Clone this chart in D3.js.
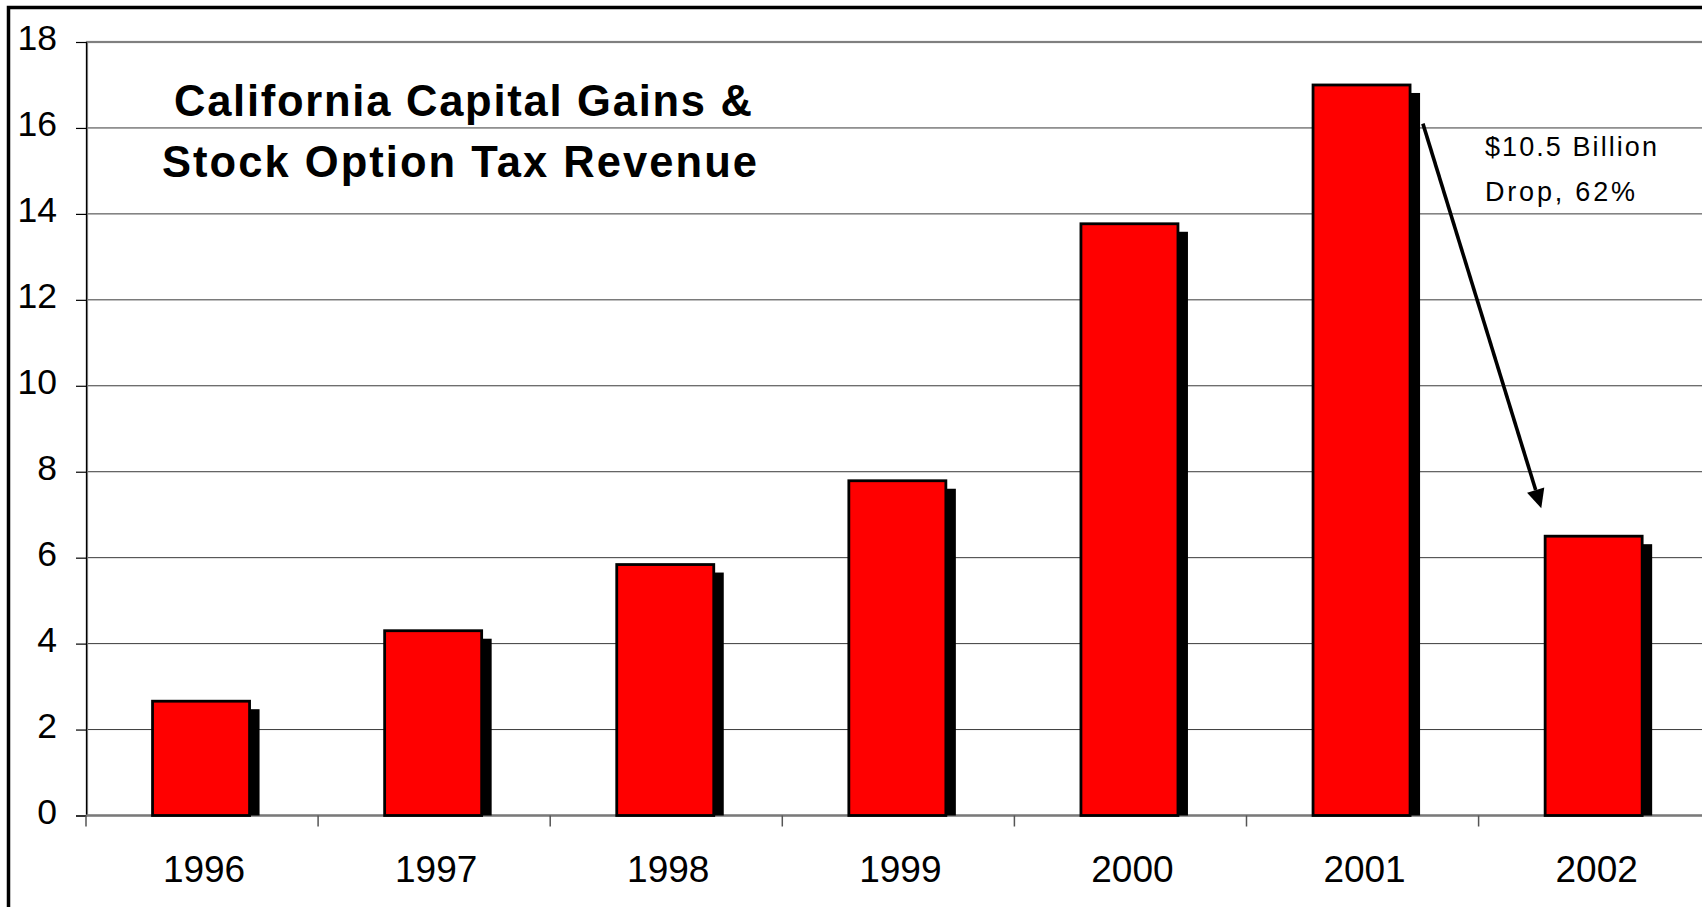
<!DOCTYPE html>
<html>
<head>
<meta charset="utf-8">
<script src="https://cdn.jsdelivr.net/npm/d3@7"></script>
<style>
  html, body { margin: 0; padding: 0; background: #fff; overflow: hidden; }
  svg { display: block; }
</style>
</head>
<body>
<svg id="chart" width="1702" height="907"></svg>
<script>
// Revenue in billions of dollars, by calendar year
const years = ["1996", "1997", "1998", "1999", "2000", "2001", "2002"];
const revenue = [2.66, 4.3, 5.84, 7.79, 13.77, 17.0, 6.5];
const yTicks = [0, 2, 4, 6, 8, 10, 12, 14, 16, 18];
const titleLines = ["California Capital Gains &", "Stock Option Tax Revenue"];
const noteLines = ["$10.5 Billion", "Drop, 62%"];
// arrow runs from the 2001 peak down toward the 2002 bar
const arrowFrom = { year: "2001", frac: 0.76, value: 16.1 };
const arrowTo = { year: "2002", frac: 0.27, value: 7.15 };

const svg = d3.select("#chart");
const W = 1702, H = 907;
const plot = { left: 86, right: 1710.7, top: 42, bottom: 815.5 };
const FONT = "'Liberation Sans', Arial, Helvetica, sans-serif";

svg.append("rect").attr("width", W).attr("height", H).attr("fill", "#fff");

const x = d3.scaleBand().domain(years).range([plot.left, plot.right]).padding(0);
const y = d3.scaleLinear().domain([0, 18]).range([plot.bottom, plot.top]);
const barW = x.bandwidth() * 0.418;

// outer frame
svg.append("rect")
  .attr("x", 8.5).attr("y", 7.5)
  .attr("width", 1730).attr("height", 950)
  .attr("fill", "none").attr("stroke", "#000").attr("stroke-width", 3.5);

// gridlines
svg.append("g")
  .selectAll("line")
  .data(yTicks.filter(t => t > 0 && t < 18))
  .join("line")
  .attr("x1", plot.left).attr("x2", plot.right)
  .attr("y1", d => y(d)).attr("y2", d => y(d))
  .attr("stroke", "#3a3a3a").attr("stroke-width", 1);

// plot area border
svg.append("rect")
  .attr("x", plot.left + 1).attr("y", y(18))
  .attr("width", plot.right - plot.left).attr("height", y(0) - y(18))
  .attr("fill", "none").attr("stroke", "#808080").attr("stroke-width", 2.2);

// y axis
const yAxis = svg.append("g")
  .attr("transform", `translate(${plot.left},0)`)
  .call(d3.axisLeft(y).tickValues(yTicks).tickSize(10).tickPadding(19).tickFormat(d3.format("d")));
yAxis.select(".domain").attr("stroke", "#000").attr("stroke-width", 1.2);
yAxis.selectAll(".tick line").attr("stroke", "#000").attr("stroke-width", 1.2);
yAxis.selectAll(".tick text")
  .attr("fill", "#000").attr("font-family", FONT).attr("font-size", 35.5)
  .attr("dy", "0.22em");

// x axis: boundary ticks between categories, labels centred in each band
const bounds = years.map(d => x(d)).concat([x(years[years.length - 1]) + x.bandwidth()]);
const xAxis = svg.append("g");
xAxis.append("line")
  .attr("x1", plot.left).attr("x2", plot.right)
  .attr("y1", y(0)).attr("y2", y(0))
  .attr("stroke", "#7a7a7a").attr("stroke-width", 2);
xAxis.selectAll("line.tk")
  .data(bounds)
  .join("line").attr("class", "tk")
  .attr("x1", d => d).attr("x2", d => d)
  .attr("y1", y(0)).attr("y2", y(0) + 11)
  .attr("stroke", "#555").attr("stroke-width", 1.5);
xAxis.selectAll("text")
  .data(years)
  .join("text")
  .attr("x", d => x(d) + x.bandwidth() / 2 + 2)
  .attr("y", y(0) + 66)
  .attr("text-anchor", "middle")
  .attr("font-family", FONT).attr("font-size", 37)
  .attr("fill", "#000")
  .text(d => d);

// bars with a black drop shadow
const data = years.map((yr, i) => ({ yr, v: revenue[i] }));
const bx = d => x(d.yr) + (x.bandwidth() - barW) / 2 - 1;
const bars = svg.append("g");
bars.selectAll("rect.shadow")
  .data(data)
  .join("rect").attr("class", "shadow")
  .attr("x", d => bx(d) + 10)
  .attr("y", d => y(d.v) + 8)
  .attr("width", barW)
  .attr("height", d => y(0) - y(d.v) - 8)
  .attr("fill", "#000");
bars.selectAll("rect.bar")
  .data(data)
  .join("rect").attr("class", "bar")
  .attr("x", bx)
  .attr("y", d => y(d.v))
  .attr("width", barW)
  .attr("height", d => y(0) - y(d.v))
  .attr("fill", "#ff0000")
  .attr("stroke", "#000").attr("stroke-width", 2.8);

// title
const titleLayout = [
  { baseline: 116, x0: 174, len: 578 },
  { baseline: 177, x0: 162, len: 595 }
];
svg.append("g").selectAll("text")
  .data(titleLines)
  .join("text")
  .attr("x", (d, i) => titleLayout[i].x0)
  .attr("y", (d, i) => titleLayout[i].baseline)
  .attr("textLength", (d, i) => titleLayout[i].len)
  .attr("lengthAdjust", "spacing")
  .attr("font-family", FONT).attr("font-weight", "bold").attr("font-size", 43.5)
  .attr("fill", "#000")
  .text(d => d);

// drop annotation
const noteLayout = [
  { baseline: 156, len: 172 },
  { baseline: 201, len: 150 }
];
svg.append("g").selectAll("text")
  .data(noteLines)
  .join("text")
  .attr("x", 1485)
  .attr("y", (d, i) => noteLayout[i].baseline)
  .attr("textLength", (d, i) => noteLayout[i].len)
  .attr("lengthAdjust", "spacing")
  .attr("font-family", FONT).attr("font-size", 27)
  .attr("fill", "#000")
  .text(d => d);

// arrow
const ax1 = x(arrowFrom.year) + x.bandwidth() * arrowFrom.frac, ay1 = y(arrowFrom.value);
const ax2 = x(arrowTo.year) + x.bandwidth() * arrowTo.frac, ay2 = y(arrowTo.value);
const ang = Math.atan2(ay2 - ay1, ax2 - ax1);
const headLen = 19, headHalf = 9;
const bxh = ax2 - headLen * Math.cos(ang), byh = ay2 - headLen * Math.sin(ang);
svg.append("line")
  .attr("x1", ax1).attr("y1", ay1).attr("x2", bxh).attr("y2", byh)
  .attr("stroke", "#000").attr("stroke-width", 3.6);
svg.append("path")
  .attr("d", d3.line()([
    [ax2, ay2],
    [bxh + headHalf * Math.sin(ang), byh - headHalf * Math.cos(ang)],
    [bxh - headHalf * Math.sin(ang), byh + headHalf * Math.cos(ang)]
  ]) + "Z")
  .attr("fill", "#000");
</script>
</body>
</html>
